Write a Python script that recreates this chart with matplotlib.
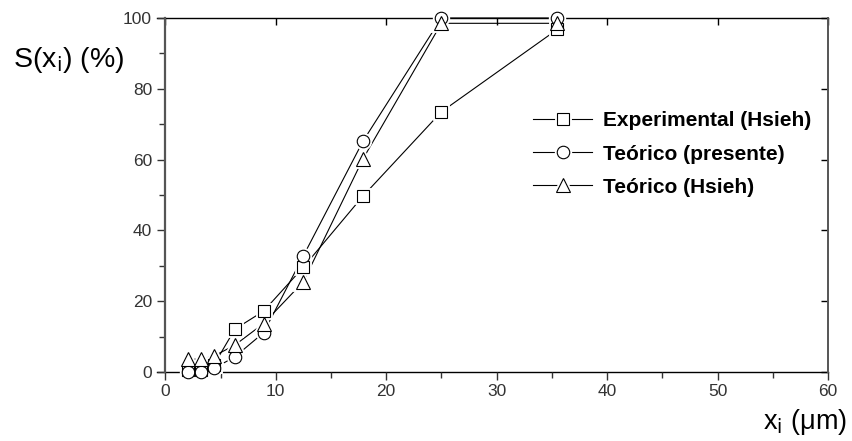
import matplotlib
matplotlib.use("Agg")
import matplotlib.pyplot as plt
from matplotlib.ticker import MultipleLocator

x_exp = [2.1, 3.2, 4.4, 6.3, 8.9, 12.5, 17.9, 25.0, 35.5]
s_exp = [0.5, 0.5, 2.0, 12.1, 17.2, 29.6, 49.7, 73.5, 96.8]

x_pres = [2.1, 3.2, 4.4, 6.3, 8.9, 12.5, 17.9, 25.0, 35.5]
s_pres = [0.0, 0.0, 1.0, 4.3, 11.1, 32.8, 65.2, 100.0, 100.0]

x_hs = [2.1, 3.2, 4.4, 6.3, 8.9, 12.5, 17.9, 25.0, 35.5]
s_hs = [3.6, 3.6, 4.5, 7.6, 13.7, 25.5, 60.2, 98.5, 98.5]

labels = ["Experimental (Hsieh)", "Teórico (presente)", "Teórico (Hsieh)"]
xticks = [0, 10, 20, 30, 40, 50, 60]
yticks = [0, 20, 40, 60, 80, 100]

plt.rcParams['font.family'] = ['Liberation Sans', 'DejaVu Sans']

fig = plt.figure(figsize=(8.53, 4.41), dpi=100)
ax = fig.add_axes([157/853, 1-372/441, (828-157)/853, (372-18)/441])

series = [(x_exp, s_exp, 's', 8.3), (x_pres, s_pres, 'o', 9.0), (x_hs, s_hs, '^', 9.5)]
handles = []
for xs, ys, m, ms in series:
    ln, = ax.plot(xs, ys, '-', color='black', lw=0.8, zorder=1, clip_on=False)
    halo, = ax.plot(xs, ys, linestyle='none', marker=m, ms=ms, mfc='white', mec='white', mew=3.5,
                    zorder=2, clip_on=False)
    mk, = ax.plot(xs, ys, linestyle='none', marker=m, ms=ms, mfc='white', mec='black', mew=0.8,
                  zorder=3, clip_on=False)
    handles.append((ln, halo, mk))

ax.set_xlim(-0.75, 60)
ax.set_ylim(0, 100)
ax.spines['left'].set_position(('data', 0))
ax.spines['left'].set_color('#555555')
ax.spines['left'].set_linewidth(1.6)
ax.spines['right'].set_color('#555555')
ax.spines['right'].set_linewidth(1.4)
for s in ['top', 'bottom']:
    ax.spines[s].set_color('black')
    ax.spines[s].set_linewidth(1.0)
    ax.spines[s].set_zorder(0.5)

ax.set_xticks(xticks)
ax.set_yticks(yticks)
ax.xaxis.set_minor_locator(MultipleLocator(5))
ax.yaxis.set_minor_locator(MultipleLocator(10))
ax.tick_params(axis='both', which='major', direction='out', length=6, width=1.0,
               labelsize=12.5, labelcolor='#333333', color='#333333')
ax.tick_params(axis='both', which='minor', direction='out', length=4, width=1.0, color='#333333')
ax.tick_params(axis='x', which='major', pad=3)

axt = ax.secondary_xaxis('top')
axt.set_xticks(xticks)
axt.tick_params(direction='in', length=5, width=1.0, labeltop=False)
axt.spines['top'].set_visible(False)
axr = ax.secondary_yaxis('right')
axr.set_yticks(yticks)
axr.tick_params(direction='in', length=5, width=1.0, labelright=False)
axr.spines['right'].set_visible(False)

fig.text(13/853, 1-60/441, r"S(x$_{\rm i}$) (%)", fontsize=20.5, va='center', ha='left')
fig.text(847/853, 1-422/441, "x$_{\\rm i}$ (\u03bcm)", fontsize=19.5, va='center', ha='right')

leg = ax.legend(handles, labels, loc='upper left', bbox_to_anchor=(523/853, 1-101/441),
                bbox_transform=fig.transFigure, frameon=False,
                prop={'weight': 'bold', 'size': 15}, handlelength=2.8, handletextpad=0.55,
                labelspacing=0.68, borderpad=0)

fig.savefig("out.png", dpi=100)
